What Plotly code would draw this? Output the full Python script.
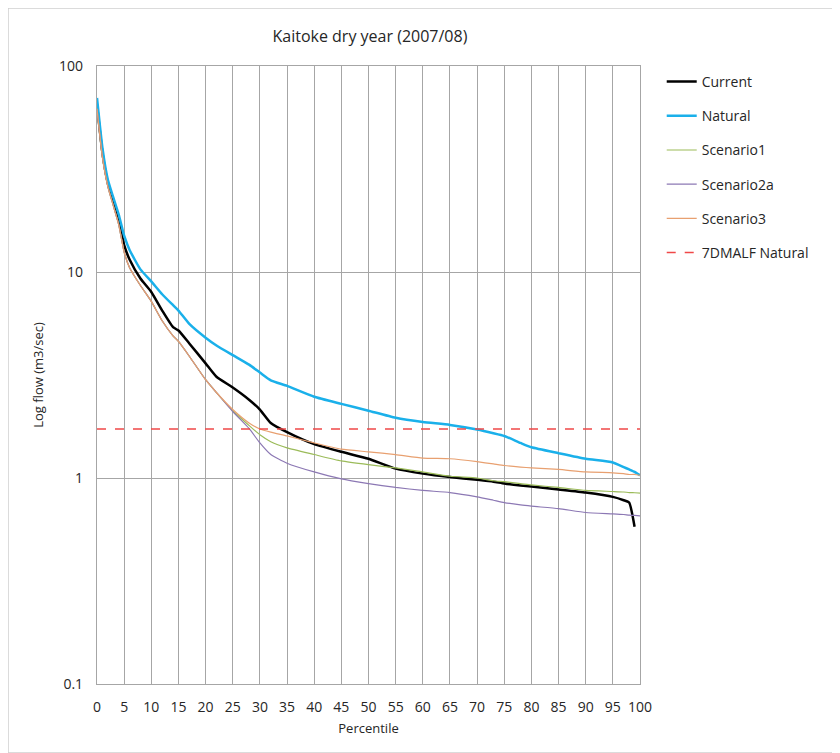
import plotly.graph_objs as go

# percentile positions shared by all series
pct = [0, 1, 2, 3, 4, 5, 6, 8, 10, 12, 14, 15, 17, 20, 22, 25, 28, 30, 32, 35,
       40, 45, 50, 55, 60, 65, 70, 73, 75, 78, 80, 85, 90, 95, 97, 98, 99, 100]

current = [65, 38, 27, 22, 18, 13.5, 11.5, 9.3, 8.0, 6.5, 5.4, 5.2, 4.5, 3.6, 3.1, 2.75, 2.4, 2.15, 1.85, 1.67,
           1.46, 1.34, 1.24, 1.11, 1.05, 1.01, 0.98, 0.96, 0.94, 0.92, 0.91, 0.88, 0.85, 0.81, 0.78, 0.76, 0.58, None]
natural = [70, 40, 28, 23, 19, 15, 12.8, 10.3, 9.0, 7.8, 6.9, 6.5, 5.6, 4.8, 4.4, 3.95, 3.55, 3.25, 2.98, 2.8,
           2.48, 2.29, 2.12, 1.96, 1.87, 1.81, 1.72, 1.65, 1.6, 1.48, 1.41, 1.32, 1.24, 1.19, 1.13, 1.1, 1.07, 1.03]
scenario1 = [62, 36, 26, 21, 17, 12.5, 10.5, 8.6, 7.2, 5.8, 4.9, 4.6, 3.9, 3.0, 2.6, 2.12, 1.8, 1.62, 1.5, 1.40,
             1.30, 1.21, 1.16, 1.12, 1.07, 1.02, 1.0, 0.97, 0.96, 0.94, 0.925, 0.90, 0.87, 0.86, 0.855, 0.85, 0.848, 0.845]
scenario2a = [62, 36, 26, 21, 17, 12.5, 10.5, 8.6, 7.2, 5.8, 4.9, 4.6, 3.9, 3.0, 2.6, 2.1, 1.74, 1.48, 1.3, 1.18,
              1.07, 0.99, 0.94, 0.90, 0.87, 0.85, 0.81, 0.78, 0.76, 0.74, 0.73, 0.71, 0.68, 0.67, 0.665, 0.66, 0.658, 0.655]
scenario3 = [62, 36, 26, 21, 17, 12.5, 10.5, 8.6, 7.2, 5.8, 4.9, 4.6, 3.9, 3.0, 2.6, 2.15, 1.85, 1.73, 1.67, 1.6,
             1.48, 1.38, 1.34, 1.30, 1.25, 1.24, 1.20, 1.17, 1.15, 1.13, 1.12, 1.10, 1.07, 1.06, 1.05, 1.04, 1.04, 1.03]
malf_natural = 1.73

x_ticks = list(range(0, 101, 5))
y_ticks = [0.1, 1, 10, 100]
y_labels = ['0.1', '1', '10', '100']

series = [
    ('Current', current, '#000000', 2.5),
    ('Natural', natural, '#1AB0EA', 2.5),
    ('Scenario1', scenario1, '#9BBB59', 1.2),
    ('Scenario2a', scenario2a, '#8C78B4', 1.2),
    ('Scenario3', scenario3, '#E8A070', 1.2),
]

font = 'Open Sans, Noto Sans, sans-serif'

fig = go.Figure()
for name, vals, color, width in series:
    fig.add_trace(go.Scatter(x=pct, y=vals, name=name, mode='lines', legendgroup=name,
                             line=dict(color=color, width=width, shape='spline', smoothing=0.5)))

# 7DMALF natural line across full range
fig.add_trace(go.Scatter(x=[x_ticks[0], x_ticks[-1]], y=[malf_natural, malf_natural], name='7DMALF Natural',
                         mode='lines', legendgroup='7DMALF', line=dict(color='#F04848', width=1.5, dash='dash')))

# page has an 8px body offset, so the figure is 8px smaller than the window
fig.update_layout(
    width=832, height=745,
    margin=dict(l=89, r=200, t=58, b=69),
    paper_bgcolor='white', plot_bgcolor='white',
    font=dict(family=font, size=14, color='#262626'),
    title=dict(text='Kaitoke dry year (2007/08)', x=0.435, xanchor='center', y=0.962, yanchor='middle',
               font=dict(size=16, color='#262626')),
    legend=dict(x=1.04, y=1.0, xanchor='left', yanchor='top', traceorder='grouped', tracegroupgap=13,
                font=dict(size=14), bgcolor='rgba(0,0,0,0)'),
    showlegend=True,
)

fig.update_xaxes(range=[0, 100], tickvals=x_ticks, showgrid=True, gridcolor='#A6A6A6', gridwidth=1.2,
                 showline=True, linecolor='#A6A6A6', linewidth=1.2, mirror=True, zeroline=False,
                 ticks='', ticklabelstandoff=10,
                 title=dict(text='Percentile', font=dict(size=13), standoff=8))
fig.update_yaxes(type='log', range=[-1, 2], tickvals=y_ticks, ticktext=y_labels, showgrid=True,
                 gridcolor='#A6A6A6', gridwidth=1.2, showline=True, linecolor='#A6A6A6', linewidth=1.2,
                 mirror=True, zeroline=False, ticks='', ticklabelstandoff=10,
                 title=dict(text='Log flow (m3/sec)', font=dict(size=13), standoff=12))

# outer chart border
fig.add_shape(type='rect', xref='paper', yref='paper',
              x0=-89 / 543, x1=(832 - 89) / 543, y0=-69 / 618, y1=(618 + 58) / 618,
              line=dict(color='#D0D0D0', width=1.5))

fig.write_html('out.html')
